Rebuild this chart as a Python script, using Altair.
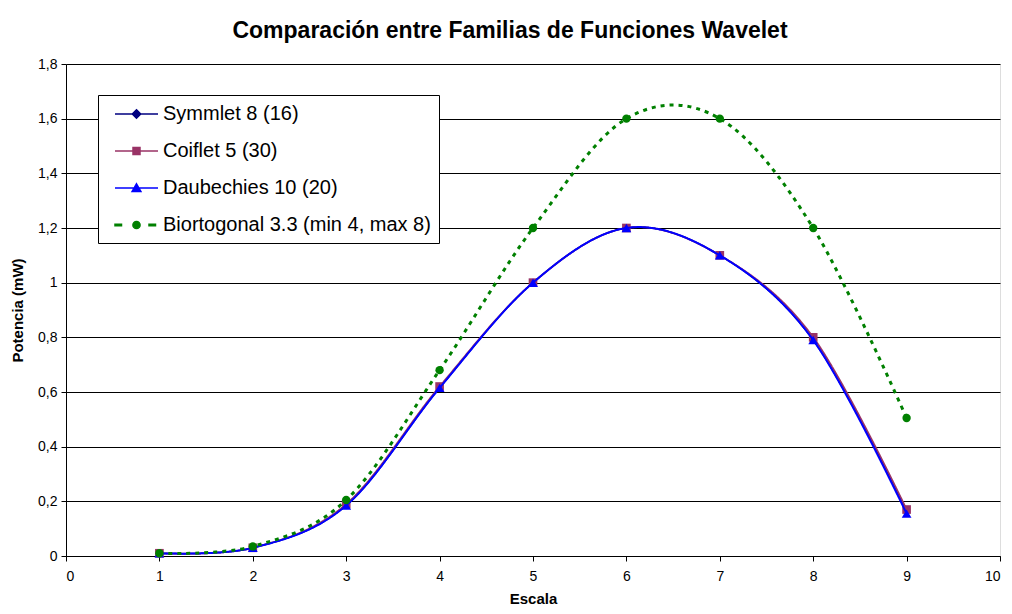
import altair as alt
import pandas as pd

escala = [1, 2, 3, 4, 5, 6, 7, 8, 9]
symmlet = [0.01, 0.03, 0.185, 0.615, 1.0, 1.2, 1.1, 0.79, 0.165]
coiflet = [0.01, 0.03, 0.19, 0.62, 1.0, 1.2, 1.1, 0.80, 0.17]
daubechies = [0.01, 0.03, 0.185, 0.615, 1.0, 1.2, 1.1, 0.79, 0.155]
biortogonal = [0.01, 0.035, 0.205, 0.68, 1.2, 1.6, 1.6, 1.2, 0.505]

series_names = ["Symmlet 8 (16)", "Coiflet 5 (30)", "Daubechies 10 (20)",
                "Biortogonal 3.3 (min 4, max 8)"]
series_vals = [symmlet, coiflet, daubechies, biortogonal]
colors = ["#000080", "#993366", "#0000FF", "#008000"]
shapes = ["diamond", "square", "triangle-up", "circle"]
dashes = [[1, 0], [1, 0], [1, 0], [4, 5]]
widths = [1.5, 1.8, 2, 3]
marker_sizes = [60, 75, 95, 70]

# legend glyphs: line segment + marker (unit = 10 px)
legend_glyphs = [
    "M-2.15,0L2.15,0M0,-0.42L0.42,0L0,0.42L-0.42,0Z",
    "M-2.15,0L2.15,0M-0.35,-0.35L0.35,-0.35L0.35,0.35L-0.35,0.35Z",
    "M-2.15,0L2.15,0M0,-0.42L0.44,0.34L-0.44,0.34Z",
    "M-2.15,-0.08L-1.5,-0.08L-1.5,0.08L-2.15,0.08Z"
    "M1.25,-0.08L1.9,-0.08L1.9,0.08L1.25,0.08Z"
    "M0.36,0A0.36,0.36 0 1,1 -0.36,0A0.36,0.36 0 1,1 0.36,0Z",
]

rows = []
for i, (name, vals) in enumerate(zip(series_names, series_vals)):
    for x, y in zip(escala, vals):
        rows.append({"serie": name, "leyenda": name, "orden": i,
                     "Escala": x, "Potencia": y})
df = pd.DataFrame(rows)

FONT = "Liberation Sans"
fmt = "replace(format(datum.value, '.1~f'), '.', ',')"

x_enc = alt.X("Escala:Q", scale=alt.Scale(domain=[0, 10], nice=False),
              axis=alt.Axis(values=list(range(0, 11)), title="Escala", grid=False,
                            domainColor="#000000", tickColor="#000000", tickSize=5,
                            labelFont=FONT, labelFontSize=14, labelColor="#000000",
                            labelPadding=8, labelExpr=fmt, titleFont=FONT,
                            titleFontSize=15, titleFontWeight="bold",
                            titleColor="#000000", titleY=42, titleBaseline="middle"))
y_enc = alt.Y("Potencia:Q", scale=alt.Scale(domain=[0, 1.8], nice=False),
              axis=alt.Axis(values=[0, 0.2, 0.4, 0.6, 0.8, 1.0, 1.2, 1.4, 1.6, 1.8],
                            title="Potencia (mW)", grid=True, gridColor="#000000",
                            gridWidth=1, domainColor="#000000", tickColor="#000000",
                            tickSize=5, labelFont=FONT, labelFontSize=14,
                            labelColor="#000000", labelPadding=4, labelExpr=fmt,
                            titleFont=FONT, titleFontSize=15, titleFontWeight="bold",
                            titleColor="#000000", titleX=-49, titleY=246,
                            titleAngle=-90, titleBaseline="middle", titleAlign="center"))

layers = []
base = alt.Chart(df)
for i, name in enumerate(series_names):
    sub = base.transform_filter(alt.datum.serie == name)
    line = sub.mark_line(interpolate="cardinal", color=colors[i], strokeWidth=widths[i],
                         strokeDash=dashes[i]).encode(
        x=x_enc if i == 0 else alt.X("Escala:Q"),
        y=y_enc if i == 0 else alt.Y("Potencia:Q"))
    pts = sub.mark_point(filled=True, opacity=1, color=colors[i], shape=shapes[i],
                         size=marker_sizes[i]).encode(x="Escala:Q", y="Potencia:Q")
    layers += [line, pts]

sc = dict(domain=series_names)
leg = alt.Legend(title=None, orient="none", legendX=32, legendY=31,
                 padding=8, strokeColor="#000000", fillColor="#ffffff",
                 labelFont=FONT, labelFontSize=20, labelColor="#000000",
                 labelLimit=500, rowPadding=16, symbolSize=400,
                 symbolStrokeWidth=1.5, symbolOffset=19.5, labelOffset=15.5)
legend_layer = base.transform_filter("false").mark_point(size=400, opacity=1).encode(
    x="Escala:Q", y="Potencia:Q",
    fill=alt.Fill("leyenda:N", scale=alt.Scale(range=colors, **sc), legend=leg),
    stroke=alt.Stroke("leyenda:N", scale=alt.Scale(range=colors, **sc), legend=leg),
    shape=alt.Shape("leyenda:N", scale=alt.Scale(range=legend_glyphs, **sc), legend=leg),
)
layers.append(legend_layer)

chart = alt.layer(*layers).properties(
    width=934, height=492,
    padding={"left": 58, "top": 56, "right": 4, "bottom": 50},
    autosize=alt.AutoSizeParams(type="none"),
    title=alt.TitleParams("Comparación entre Familias de Funciones Wavelet",
                          font=FONT, fontSize=23, fontWeight="bold", color="#000000",
                          anchor="middle", offset=14, dx=-23),
).configure_view(stroke="#808080", strokeWidth=1).configure(background="#ffffff")

chart.save("out.html", embed_options={"renderer": "svg", "actions": False})
